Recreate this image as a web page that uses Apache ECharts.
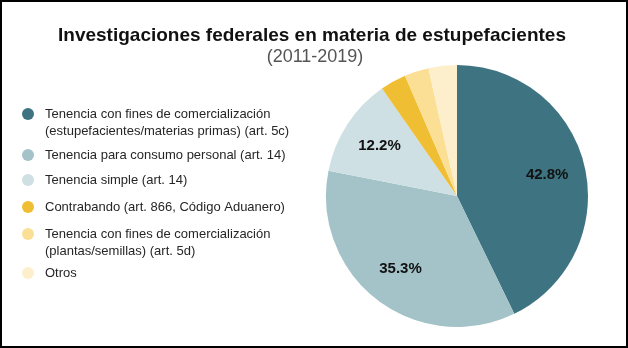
<!DOCTYPE html>
<html>
<head>
<meta charset="utf-8">
<script src="https://cdn.jsdelivr.net/npm/echarts@6/dist/echarts.min.js"></script>
<style>
  html, body { margin: 0; padding: 0; background: #fff; }
  #chart { width: 628px; height: 348px; }
</style>
</head>
<body>
<div id="chart"></div>
<script>
// Categories (legend order = slice order, clockwise from 12 o'clock)
const categories = [
  'Tenencia con fines de comercialización\n(estupefacientes/materias primas) (art. 5c)',
  'Tenencia para consumo personal (art. 14)',
  'Tenencia simple (art. 14)',
  'Contrabando (art. 866, Código Aduanero)',
  'Tenencia con fines de comercialización\n(plantas/semillas) (art. 5d)',
  'Otros'
];
// Share of investigations, percent
const shares = [42.8, 35.3, 12.2, 3.2, 3.0, 3.5];
// Which slices carry a percentage label
const labelled = [true, true, true, false, false, false];
const colors = ['#3e7481', '#a3c3c9', '#cee0e3', '#f0be33', '#fbdf95', '#fdefcb'];

const titleText = 'Investigaciones federales en materia de estupefacientes';
const subtitleText = '(2011-2019)';

const FONT = '"Liberation Sans", Arial, sans-serif';
const LINE = 17;

const pieData = categories.map((name, i) => ({
  name: name,
  value: shares[i],
  itemStyle: { color: colors[i] }
}));

// Legend icon centres (y) for each entry
const legendCenters = [114, 155, 180, 207, 234, 273];

const legends = categories.map((name, i) => {
  const multi = name.indexOf('\n') >= 0;
  // two-line entries get a blank leading line so the marker sits on the first line
  const h = multi ? LINE * 3 : LINE;
  return {
    orient: 'vertical',
    left: 22,
    top: legendCenters[i] - h / 2,
    padding: 0,
    itemWidth: 12,
    itemHeight: 12,
    itemGap: 0,
    icon: 'circle',
    selectedMode: false,
    data: [name],
    formatter: n => {
      const rows = n.split('\n').map(r => '{gap| }{t|' + r + '}');
      return (multi ? '{t| }\n' : '') + rows.join('\n');
    },
    textStyle: {
      fontFamily: FONT,
      fontSize: 13,
      color: '#262626',
      lineHeight: LINE,
      rich: {
        gap: { width: 6, fontSize: 13, lineHeight: LINE },
        t: { fontFamily: FONT, fontSize: 13, color: '#262626', lineHeight: LINE }
      }
    }
  };
});

const chart = echarts.init(document.getElementById('chart'), null, { renderer: 'canvas' });
chart.setOption({
  animation: false,
  backgroundColor: '#ffffff',
  title: [
    {
      text: titleText,
      left: 312,
      top: 26,
      padding: 0,
      textAlign: 'center',
      textStyle: { fontFamily: FONT, fontSize: 19, fontWeight: 'bold', color: '#111' }
    },
    {
      text: subtitleText,
      left: 315,
      top: 48,
      padding: 0,
      textAlign: 'center',
      textStyle: { fontFamily: FONT, fontSize: 18, fontWeight: 'normal', color: '#555' }
    }
  ],
  legend: legends,
  graphic: [{
    type: 'rect',
    shape: { x: 1, y: 1, width: 626, height: 346 },
    style: { fill: 'none', stroke: '#000', lineWidth: 2 },
    silent: true,
    z: 100
  }],
  series: [
    {
      type: 'pie',
      center: [457, 196],
      radius: [0, 131],
      startAngle: 90,
      clockwise: true,
      label: { show: false },
      labelLine: { show: false },
      itemStyle: { borderWidth: 0 },
      emphasis: { disabled: true },
      data: pieData
    },
    {
      // transparent ring that only carries the percentage labels
      type: 'pie',
      center: [457, 196],
      radius: [48, 131],
      startAngle: 90,
      clockwise: true,
      silent: true,
      legendHoverLink: false,
      itemStyle: { color: 'rgba(0,0,0,0)', borderWidth: 0 },
      labelLine: { show: false },
      emphasis: { disabled: true },
      data: categories.map((name, i) => ({
        name: name,
        value: shares[i],
        itemStyle: { color: 'rgba(0,0,0,0)' },
        label: {
          show: labelled[i],
          position: 'inside',
          formatter: shares[i].toFixed(1) + '%',
          fontFamily: FONT,
          fontSize: 15,
          fontWeight: 'bold',
          color: '#111'
        }
      }))
    }
  ]
});
</script>
</body>
</html>
